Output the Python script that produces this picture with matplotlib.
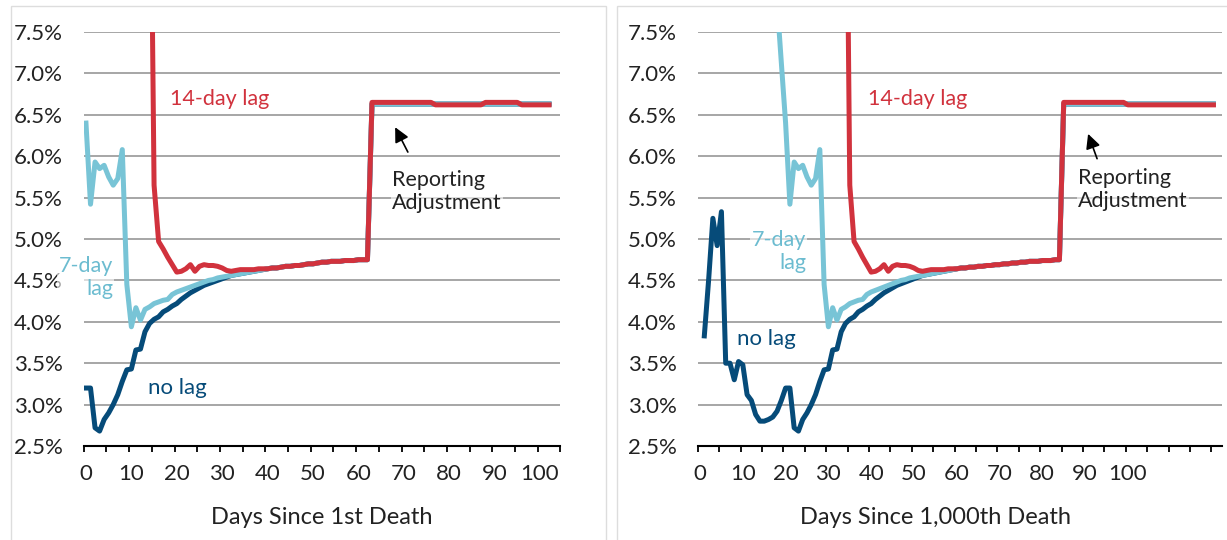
import matplotlib
matplotlib.use("Agg")
import matplotlib.pyplot as plt
from matplotlib.patches import Rectangle
import numpy as np

plt.rcParams['font.family'] = ['Lato', 'DejaVu Sans']

# case fatality rate (%)
# days since 1st death, days 0-39
early_no_lag = [3.20, 3.20, 2.72, 2.68, 2.82, 2.90, 3.00, 3.12, 3.28, 3.42,
                3.43, 3.66, 3.67, 3.88, 3.98, 4.03, 4.06, 4.12, 4.15, 4.19,
                4.22, 4.27, 4.31, 4.35, 4.38, 4.41, 4.44, 4.46, 4.48, 4.50,
                4.52, 4.54, 4.56, 4.57, 4.58, 4.59, 4.60, 4.61, 4.62, 4.63]
early_lag7 = [6.40, 5.42, 5.93, 5.85, 5.89, 5.75, 5.65, 5.73, 6.08, 4.45,
              3.94, 4.17, 4.02, 4.15, 4.18, 4.22, 4.24, 4.26, 4.27, 4.33,
              4.36, 4.38, 4.40, 4.42, 4.44, 4.46, 4.48, 4.50, 4.51, 4.53,
              4.54, 4.55, 4.56, 4.57, 4.58, 4.59, 4.60, 4.61, 4.62, 4.63]
early_lag14 = [None] * 14 + [11.0, 5.65, 4.97, 4.88, 4.78, 4.69,
                             4.60, 4.61, 4.64, 4.69, 4.61, 4.67, 4.69, 4.68, 4.68, 4.67,
                             4.65, 4.62, 4.61, 4.62, 4.63, 4.63, 4.63, 4.63, 4.64, 4.64]
# days 40-62, the three lines lie on top of each other
tail_1st = [4.64, 4.65, 4.65, 4.66, 4.67, 4.67, 4.68, 4.68, 4.69, 4.70,
            4.70, 4.71, 4.72, 4.72, 4.73, 4.73, 4.73, 4.74, 4.74, 4.74,
            4.75, 4.75, 4.75]
# days 63-102, after the reporting adjustment
plateau_1st_lag14 = [6.65] * 14 + [6.62] * 11 + [6.65] * 8 + [6.62] * 7
plateau_1st_other = [6.63] * 40

# days since 1,000th death: extra days 0-19 before the shared part
pre_no_lag = [None, 3.83, 4.50, 5.25, 4.92, 5.33, 3.50, 3.50, 3.30, 3.52,
              3.48, 3.12, 3.05, 2.88, 2.80, 2.80, 2.82, 2.85, 2.92, 3.05]
pre_lag7 = [None] * 17 + [8.60, 7.87, 7.13]
pre_lag14 = [None] * 20
# days 60-84
tail_1000 = [4.64, 4.65, 4.65, 4.66, 4.66, 4.67, 4.67, 4.68, 4.68, 4.69,
             4.69, 4.70, 4.70, 4.71, 4.71, 4.72, 4.72, 4.73, 4.73, 4.73,
             4.74, 4.74, 4.74, 4.75, 4.75]
# days 85-120
plateau_1000_lag14 = [6.65] * 15 + [6.62] * 21
plateau_1000_other = [6.63] * 36

yticks = [2.5, 3.0, 3.5, 4.0, 4.5, 5.0, 5.5, 6.0, 6.5, 7.0, 7.5]
xlabels = [0, 10, 20, 30, 40, 50, 60, 70, 80, 90, 100]

NAVY = '#064B79'
LIGHT = '#78C4D6'
RED = '#D1323D'
TXT = '#222222'


def arr(*parts):
    vals = []
    for p in parts:
        vals += p
    return np.array([np.nan if v is None else v for v in vals], dtype=float)


panels = [
    dict(rect=[83.7 / 1227, 94 / 540, 476.7 / 1227, 414 / 540],
         xlim=(-0.5, 104.5), minor_end=105,
         no_lag=arr(early_no_lag, tail_1st, plateau_1st_other),
         lag7=arr(early_lag7, tail_1st, plateau_1st_other),
         lag14=arr(early_lag14, tail_1st, plateau_1st_lag14),
         title='Days Since 1st Death', title_x=322,
         t14=(18.5, 6.69), t7=(5.95, 4.535), tno=(13.7, 3.20),
         trep=(67.4, 5.57), head=(68.1, 6.35), tail=(70.9, 6.05)),
    dict(rect=[697.9 / 1227, 94 / 540, 524.1 / 1227, 414 / 540],
         xlim=(-0.5, 122), minor_end=120,
         no_lag=arr(pre_no_lag, early_no_lag, tail_1000, plateau_1000_other),
         lag7=arr(pre_lag7, early_lag7, tail_1000, plateau_1000_other),
         lag14=arr(pre_lag14, early_lag14, tail_1000, plateau_1000_lag14),
         title='Days Since 1,000th Death', title_x=935,
         t14=(39.3, 6.69), t7=(24.8, 4.85), tno=(8.6, 3.79),
         trep=(88.3, 5.60), head=(90.7, 6.27), tail=(92.8, 5.97)),
]

fig = plt.figure(figsize=(12.27, 5.4), dpi=100)

# light chart borders
for x0, x1 in [(11, 606), (617, 1240)]:
    fig.patches.append(Rectangle((x0 / 1227, -0.05), (x1 - x0) / 1227, 1.05 - 6 / 540,
                                 transform=fig.transFigure, fill=False,
                                 edgecolor='#DDDDDD', lw=1))

label_box = dict(facecolor='white', alpha=0.6, edgecolor='none', pad=1)

for p in panels:
    ax = fig.add_axes(p['rect'])
    days = np.arange(len(p['no_lag']))
    ax.plot(days, p['no_lag'], color=NAVY, lw=3.6, zorder=3, solid_joinstyle='round')
    ax.plot(days, p['lag7'], color=LIGHT, lw=3.6, zorder=3.1, solid_joinstyle='round')
    ax.plot(days, p['lag14'], color=RED, lw=3.6, zorder=3.2, solid_joinstyle='round')

    ax.set_xlim(*p['xlim'])
    ax.set_ylim(2.5, 7.5)
    ax.set_yticks(yticks)
    ax.set_yticklabels(['%.1f%%' % v for v in yticks])
    ax.set_xticks(xlabels)
    ax.set_xticklabels([str(v) for v in xlabels])
    ax.set_xticks(np.arange(-0.5, p['minor_end'], 5), minor=True)
    ax.yaxis.grid(True, color='#A6A6A6', lw=1.4, zorder=1)
    ax.set_axisbelow(True)
    for s in ['top', 'right', 'left']:
        ax.spines[s].set_visible(False)
    ax.spines['bottom'].set_color('black')
    ax.spines['bottom'].set_linewidth(1.5)
    ax.spines['bottom'].set_zorder(4)
    ax.tick_params(axis='y', length=0, pad=15, labelsize=16, labelcolor=TXT)
    ax.tick_params(axis='x', which='major', length=0, pad=13, labelsize=16, labelcolor=TXT)
    ax.tick_params(axis='x', which='minor', length=4, width=1.3, color='black', direction='out')

    ax.text(*p['t14'], '14-day lag', color=RED, fontsize=15.5, ha='left', va='center', zorder=2.5)
    ax.text(*p['t7'], '7-day\nlag', color='#6CBCD0', fontsize=15.5, ha='right', va='center',
            multialignment='right', linespacing=1.2, zorder=2.5, bbox=label_box)
    ax.text(*p['tno'], 'no lag', color=NAVY, fontsize=16, ha='left', va='center',
            zorder=2.5, bbox=label_box)
    ax.text(*p['trep'], 'Reporting\nAdjustment', color=TXT, fontsize=15.5, ha='left', va='center',
            linespacing=1.2, zorder=2.5, bbox=label_box)
    ax.annotate('', xy=p['head'], xytext=p['tail'], zorder=5,
                arrowprops=dict(arrowstyle='-|>', color='black', lw=1.2, mutation_scale=22,
                                shrinkA=0, shrinkB=0))

    fig.text(p['title_x'] / 1227, 1 - 517 / 540, p['title'], ha='center', va='center',
             fontsize=17, color=TXT)

fig.savefig('out.png', dpi=100)
